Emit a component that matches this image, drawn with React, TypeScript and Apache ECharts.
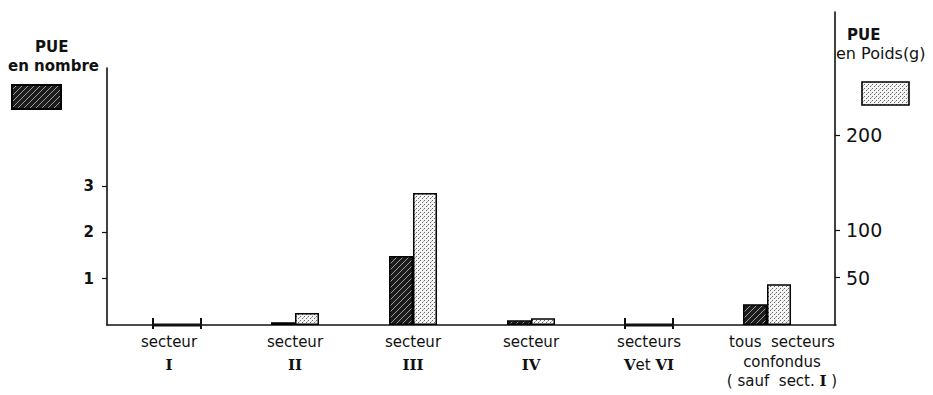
import React, { useEffect, useRef } from "react";
import * as echarts from "echarts";

// ---- Data ----
const categories = [
  "secteur I",
  "secteur II",
  "secteur III",
  "secteur IV",
  "secteurs V et VI",
  "tous secteurs confondus (sauf sect. I)",
];
// PUE en nombre (left axis)
const pueNombre = [0, 0.06, 1.49, 0.1, 0, 0.45];
// PUE en Poids (g) (right axis)
const puePoids = [0, 12.6, 139, 7, 0, 43];

const leftTicks = [1, 2, 3];
const rightTicks = [50, 100, 200];

const leftTitle = ["PUE", "en nombre"];
const rightTitle = ["PUE", "en Poids(g)"];

function makeDarkPattern() {
  const c = document.createElement("canvas");
  const s = 6;
  c.width = s;
  c.height = s;
  const g = c.getContext("2d")!;
  g.fillStyle = "#1c1c1c";
  g.fillRect(0, 0, s, s);
  g.strokeStyle = "#9a9a9a";
  g.lineWidth = 1;
  g.beginPath();
  g.moveTo(0, s);
  g.lineTo(s, 0);
  g.moveTo(-s / 2, s / 2);
  g.lineTo(s / 2, -s / 2);
  g.moveTo(s / 2, s * 1.5);
  g.lineTo(s * 1.5, s / 2);
  g.stroke();
  return { image: c.toDataURL(), repeat: "repeat", imageWidth: s, imageHeight: s };
}

function makeLightPattern() {
  const c = document.createElement("canvas");
  const s = 4;
  c.width = s;
  c.height = s;
  const g = c.getContext("2d")!;
  g.fillStyle = "#f4f4f4";
  g.fillRect(0, 0, s, s);
  g.fillStyle = "#6a6a6a";
  g.fillRect(0, 0, 1, 1);
  g.fillRect(2, 2, 1, 1);
  g.fillStyle = "#b0b0b0";
  g.fillRect(3, 1, 1, 1);
  return { image: c.toDataURL(), repeat: "repeat", imageWidth: s, imageHeight: s };
}

const labelRich: Record<number, string> = {
  0: "{a|secteur}\n{r|I}",
  1: "{a|secteur}\n{r|II}",
  2: "{a|secteur}\n{r|III}",
  3: "{a|secteur}\n{r|IV}",
  4: "{a|secteurs}\n{r|V}{e|et }{r|VI}",
  5: "{b|tous  secteurs}\n{b|confondus}\n{c|( sauf  sect. }{q|I}{c| )}",
};

export default function App() {
  const ref = useRef<HTMLDivElement>(null);
  useEffect(() => {
    document.body.style.margin = "0";
    if (!ref.current) return;
    const chart = echarts.init(ref.current, null, { renderer: "svg" });
    const dark = makeDarkPattern();
    const light = makeLightPattern();
    const zeroIdx = categories
      .map((_, i) => i)
      .filter((i) => pueNombre[i] === 0 && puePoids[i] === 0)
      .map((i) => [i, 0]);

    const sans = "DejaVu Sans";
    const serif = "DejaVu Serif";

    const option: any = {
      animation: false,
      backgroundColor: "#ffffff",
      grid: [
        { left: 118, right: 107, top: 68, bottom: 70 },
        { left: 118, right: 107, top: 12, bottom: 70 },
        { left: 107, right: 97, top: 12, bottom: 70 },
      ],
      xAxis: [
        {
          gridIndex: 0,
          type: "category",
          data: categories.map((c, i) =>
            i === 5 ? { value: c, textStyle: { padding: [0, 0, 0, 30] } } : i === 0 ? { value: c, textStyle: { padding: [0, 16, 0, 0] } } : c
          ),
          axisLine: { show: false },
          axisTick: { show: false },
          axisLabel: {
            interval: 0,
            margin: 7,
            color: "#111",
            formatter: (_v: string, i: number) => labelRich[i],
            rich: {
              a: { fontFamily: sans, fontSize: 15, lineHeight: 20, color: "#111" },
              b: { fontFamily: sans, fontSize: 15, lineHeight: 20, color: "#111" },
              c: { fontFamily: sans, fontSize: 15, lineHeight: 18, color: "#111" },
              e: { fontFamily: sans, fontSize: 15, lineHeight: 26, color: "#111" },
              r: { fontFamily: serif, fontSize: 15, fontWeight: "bold", lineHeight: 26, color: "#111" },
              q: { fontFamily: serif, fontSize: 15, fontWeight: "bold", lineHeight: 18, color: "#111" },
            },
          },
          splitLine: { show: false },
        },
        {
          gridIndex: 1,
          type: "category",
          data: categories,
          show: false,
        },
        {
          gridIndex: 2,
          type: "value",
          min: 0,
          max: 1,
          axisLine: { show: true, onZero: false, lineStyle: { color: "#111", width: 1.6 } },
          axisTick: { show: false },
          axisLabel: { show: false },
          splitLine: { show: false },
        },
      ],
      yAxis: [
        {
          gridIndex: 0,
          type: "value",
          position: "left",
          offset: 11,
          min: 0,
          max: 5.55,
          axisLine: { show: true, lineStyle: { color: "#111", width: 1.6 } },
          axisTick: { show: true, customValues: leftTicks, length: 5, lineStyle: { color: "#111", width: 1.2 } },
          axisLabel: {
            customValues: leftTicks,
            margin: 13,
            color: "#111",
            fontFamily: sans,
            fontSize: 15,
            fontWeight: "bold",
          },
          splitLine: { show: false },
        },
        {
          gridIndex: 1,
          type: "value",
          position: "right",
          offset: 9,
          min: 0,
          max: 329.5,
          axisLine: { show: true, lineStyle: { color: "#111", width: 1.6 } },
          axisTick: { show: true, customValues: rightTicks, length: 5, lineStyle: { color: "#111", width: 1.2 } },
          axisLabel: {
            customValues: rightTicks,
            margin: 11,
            color: "#111",
            fontFamily: sans,
            fontSize: 19,
          },
          splitLine: { show: false },
        },
        { gridIndex: 2, type: "value", show: false },
      ],
      series: [
        {
          name: "PUE en nombre",
          type: "bar",
          xAxisIndex: 0,
          yAxisIndex: 0,
          data: pueNombre,
          barWidth: 24,
          barGap: "0%",
          itemStyle: { color: dark, borderColor: "#000", borderWidth: 1.5 },
        },
        {
          name: "spacer0",
          type: "bar",
          xAxisIndex: 0,
          yAxisIndex: 0,
          data: pueNombre.map(() => "-"),
          barWidth: 24,
          barGap: "0%",
        },
        {
          name: "spacer1",
          type: "bar",
          xAxisIndex: 1,
          yAxisIndex: 1,
          data: puePoids.map(() => "-"),
          barWidth: 24,
          barGap: "0%",
        },
        {
          name: "PUE en Poids(g)",
          type: "bar",
          xAxisIndex: 1,
          yAxisIndex: 1,
          data: puePoids,
          barWidth: 24,
          barGap: "0%",
          itemStyle: { color: light, borderColor: "#000", borderWidth: 1.5 },
        },
        {
          name: "zero",
          type: "custom",
          xAxisIndex: 0,
          yAxisIndex: 0,
          data: zeroIdx,
          z: 10,
          clip: false,
          renderItem: (_params: any, api: any) => {
            const p = api.coord([api.value(0), 0]);
            const hw = 24;
            return {
              type: "group",
              children: [
                { type: "rect", shape: { x: p[0] - hw, y: p[1] - 1.5, width: hw * 2, height: 3 }, style: { fill: "#111" } },
                { type: "rect", shape: { x: p[0] - hw - 1, y: p[1] - 7, width: 2, height: 11 }, style: { fill: "#111" } },
                { type: "rect", shape: { x: p[0] + hw - 1, y: p[1] - 7, width: 2, height: 11 }, style: { fill: "#111" } },
              ],
            };
          },
        },
      ],
      graphic: [
        {
          type: "text",
          left: 35,
          top: 39,
          style: { text: leftTitle[0], font: `bold 15px "${sans}"`, fill: "#111" },
        },
        {
          type: "text",
          left: 8,
          top: 58,
          style: { text: leftTitle[1], font: `bold 15px "${sans}"`, fill: "#111" },
        },
        {
          type: "rect",
          shape: { x: 12, y: 85, width: 49, height: 24 },
          style: { fill: dark, stroke: "#000", lineWidth: 2 },
        },
        {
          type: "text",
          left: 847,
          top: 27,
          style: { text: rightTitle[0], font: `bold 15px "${sans}"`, fill: "#111" },
        },
        {
          type: "text",
          left: 836,
          top: 45,
          style: { text: rightTitle[1], font: `16px "${sans}"`, fill: "#111" },
        },
        {
          type: "rect",
          shape: { x: 862, y: 82, width: 47, height: 23 },
          style: { fill: light, stroke: "#000", lineWidth: 1.6 },
        },
      ],
    };
    chart.setOption(option);
    return () => chart.dispose();
  }, []);
  return <div ref={ref} style={{ width: 933, height: 395 }} />;
}
